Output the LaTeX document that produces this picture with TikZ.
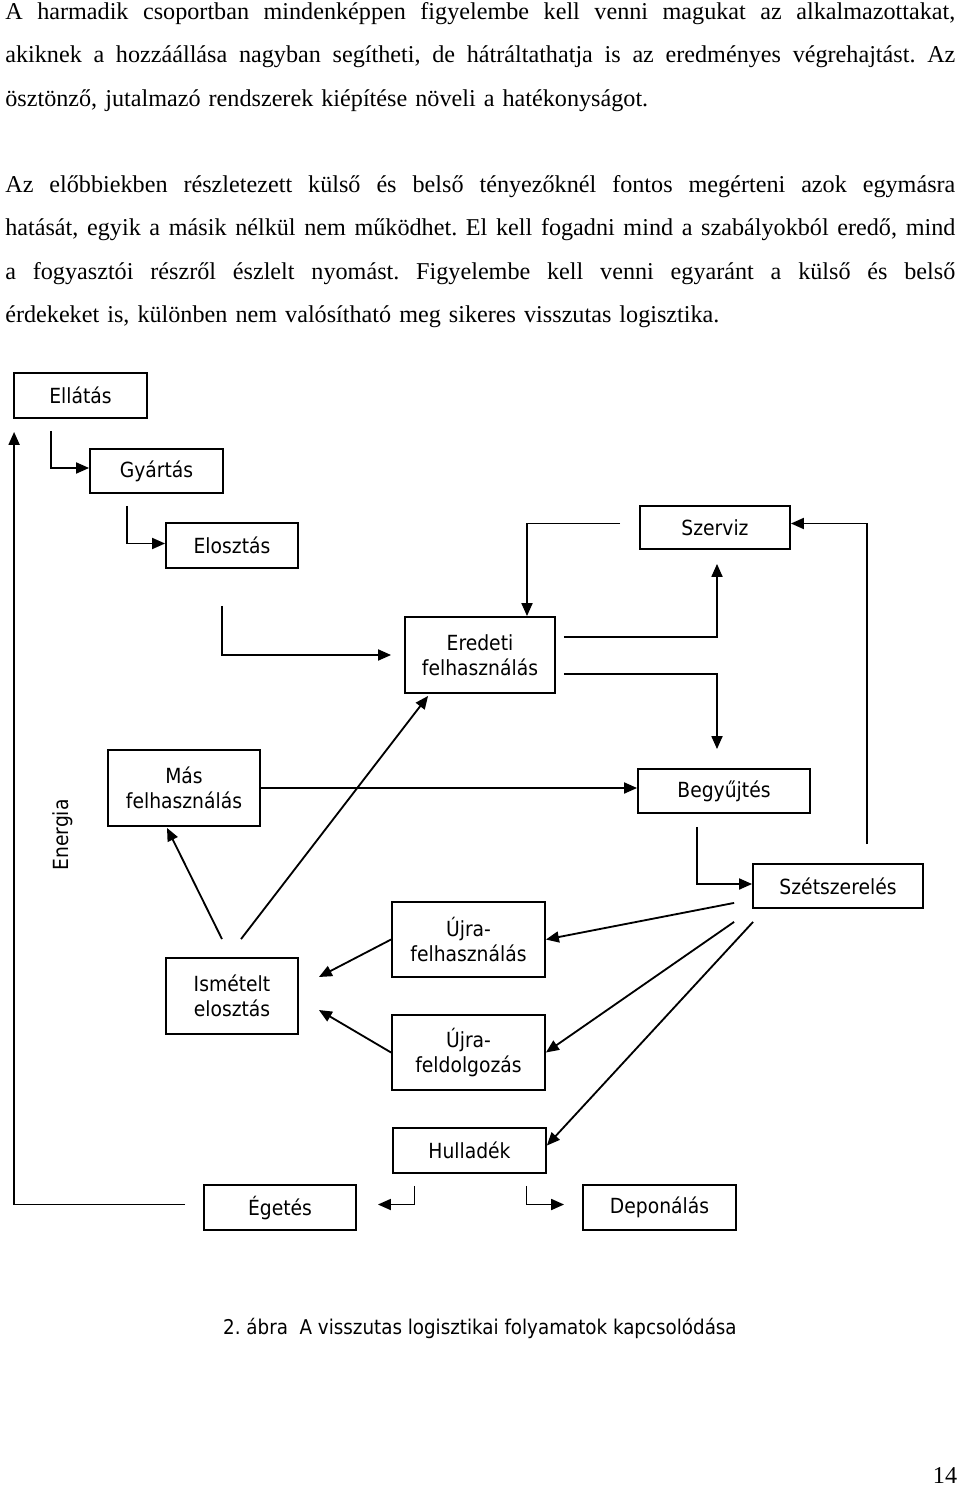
\documentclass[tikz,border=0pt]{standalone}
\usepackage{fontspec}
\setmainfont{Liberation Serif}
\newfontfamily\lblfont{DejaVu Sans Condensed}
\usetikzlibrary{arrows.meta,calc}
\newcommand{\fullline}[1]{\hbox to 570pt{\spaceskip=0.25em plus 1fil\relax #1}}
\frenchspacing

\begin{document}
\begin{tikzpicture}[x=0.6pt, y=-0.6pt,
    box/.style 2 args={draw, line width=1.1pt, minimum width=#1*0.6pt, minimum height=#2*0.6pt,
        inner sep=0pt, align=center, font=\lblfont\fontsize{12.5}{15}\selectfont},
    flow/.style={-{Triangle[length=7.8pt, width=6.6pt]}, line width=1.1pt},
    para/.style={anchor=north west, inner sep=0pt, text width=570pt,
        font=\fontsize{14.5}{26}\selectfont}]
    \useasboundingbox (0,0) rectangle (960,1492);

    % text above the figure
    \node[para] (par1) at (5,2) {%
        \fullline{A harmadik csoportban mindenképpen figyelembe kell venni magukat az alkalmazottakat,}
        \fullline{akiknek a hozzáállása nagyban segítheti, de hátráltathatja is az eredményes végrehajtást. Az}
        \hbox{ösztönző, jutalmazó rendszerek kiépítése növeli a hatékonyságot.}};
    \node[para] (par2) at (5,175) {%
        \fullline{Az előbbiekben részletezett külső és belső tényezőknél fontos megérteni azok egymásra}
        \fullline{hatását, egyik a másik nélkül nem működhet. El kell fogadni mind a szabályokból eredő, mind}
        \fullline{a fogyasztói részről észlelt nyomást. Figyelembe kell venni egyaránt a külső és belső}
        \hbox{érdekeket is, különben nem valósítható meg sikeres visszutas logisztika.}};

    % boxes
    \node[box={133}{45}] (ellatas) at (80.5,395.5) {Ellátás};
    \node[box={133}{44}] (gyartas) at (156.5,471) {Gyártás};
    \node[box={132}{45}] (elosztas) at (232,545.5) {Elosztás};
    \node[box={150}{43}] (szerviz) at (715,527.5) {Szerviz};
    \node[box={150}{76}] (eredeti) at (480,655) {Eredeti\\felhasználás};
    \node[box={152}{76}] (mas) at (184,788) {Más\\felhasználás};
    \node[box={172}{44}] (begyujtes) at (724,791) {Begyűjtés};
    \node[box={170}{44}] (szet) at (838,886) {Szétszerelés};
    \node[box={132}{76}] (ismetelt) at (232,996) {Ismételt\\elosztás};
    \node[box={153}{75}] (ujrafelh) at (468.5,939.5) {Újra-\\felhasználás};
    \node[box={153}{75}] (ujrafeld) at (468.5,1052.5) {Újra-\\feldolgozás};
    \node[box={153}{45}] (hulladek) at (469.5,1150.5) {Hulladék};
    \node[box={152}{45}] (egetes) at (280,1207.5) {Égetés};
    \node[box={153}{45}] (deponalas) at (659.5,1207.5) {Deponálás};
    \node[font=\lblfont\fontsize{12.5}{15}\selectfont, rotate=90] (energia) at (63,835) {Energia};

    % forward chain
    \draw[flow] ($(ellatas.south west)+(38,12)$) |- ($(gyartas.west)+(0,-3)$);
    \draw[flow] ($(gyartas.south west)+(38,12)$) |- ($(elosztas.west)+(0,-2)$);
    \draw[flow, shorten >=7.8pt] ($(elosztas.south)+(-10,37)$) |- (eredeti);

    % service loop
    \draw[flow] ($(szerviz.west)+(-19,-4)$) -| ($(eredeti.north)+(47,0)$);
    \draw[flow] ($(eredeti.east)+(8,-18)$) -| ($(szerviz.south)+(2,14)$);
    \draw[flow] ($(eredeti.east)+(8,19)$) -| ($(begyujtes.north)+(-7,-19)$);
    \draw[flow] ($(szet.north)+(29,-19)$) |- ($(szerviz.east)+(0,-4)$);
    \draw[flow] ($(begyujtes.south)+(-27,13)$) |- ($(szet.west)+(0,-2)$);

    % out of disassembly
    \draw[flow] ($(szet.south west)+(-18,-6)$) -- (ujrafelh.east);
    \draw[flow] ($(szet.south west)+(-18,13)$) -- (ujrafeld.east);
    \draw[flow] ($(szet.south west)+(1,13)$) -- ($(hulladek.east)+(0,-5)$);

    % redistribution
    \draw[flow] (mas.east) -- (mas.east -| begyujtes.west);
    \draw[flow] ($(ismetelt.north)+(-10,-18)$) -- ($(mas.south)+(-17,1)$);
    \draw[flow] ($(ismetelt.north)+(9,-18)$) -- ($(eredeti.south west)+(24,2)$);
    \draw[flow] (ujrafelh.west) -- ($(ismetelt.east)+(20,-19)$);
    \draw[flow] (ujrafeld.west) -- ($(ismetelt.east)+(20,14)$);

    % waste
    \draw[flow] ($(hulladek.south)+(-55,12)$) |- ($(egetes.east)+(21,-3)$);
    \draw[flow] ($(hulladek.south)+(57,12)$) |- ($(deponalas.west)+(-18,-3)$);
    \draw[flow] ($(egetes.west)+(-18,-3)$) -| ($(ellatas.south west)+(1,13)$);

    \node[font=\lblfont\fontsize{12.2}{15}\selectfont] (caption) at (480,1328)
        {2. ábra~~A visszutas logisztikai folyamatok kapcsolódása};
    \node[font=\fontsize{14.5}{17}\selectfont] (pagenum) at (945,1476) {14};
\end{tikzpicture}
\end{document}
